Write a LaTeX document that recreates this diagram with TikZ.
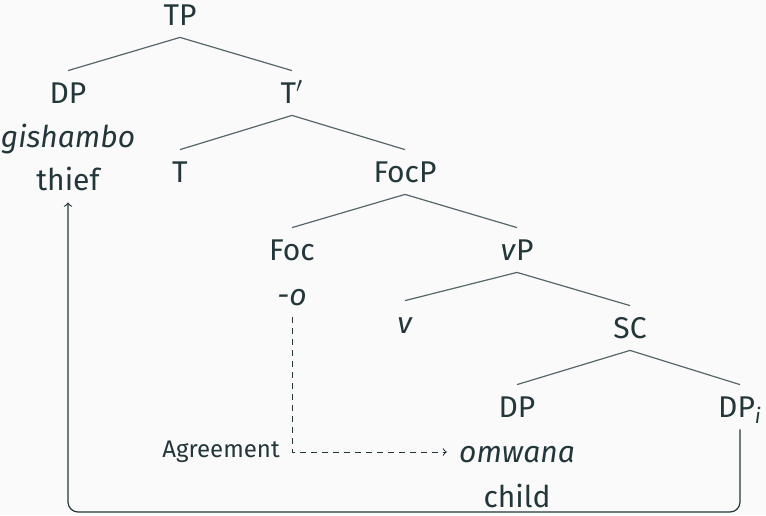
\documentclass[tikz,border=0pt]{standalone}
\usepackage{fontspec}
\setmainfont{Fira Sans}
\definecolor{darkteal}{HTML}{23373B}
\definecolor{paper}{HTML}{FAFAFA}
\definecolor{branchgray}{HTML}{56666A}

\begin{document}
\begin{tikzpicture}[
	x=0.5pt, y=-0.5pt,
	cat/.style={anchor=base, inner xsep=6pt, inner ysep=6pt, text height=10pt, text depth=0pt, text=darkteal, font=\fontsize{15}{18}\selectfont},
	treeline/.style={draw=branchgray, line width=0.6pt}
	]

	\useasboundingbox (0, 0) rectangle (766, 515);
	\fill [paper] (0, 0) rectangle (766, 515);

	\node (TP) at (180, 25) [cat] {TP};
	\node (DP) at (68, 103) [cat] {DP};
	\node (gishambo) at (68, 147) [cat] {\textit{gishambo}};
	\node (thief) at (68, 190) [cat] {thief};
	\node (Tbar) at (292, 103) [cat] {T$'$};
	\node (T) at (180, 182) [cat] {T};
	\node (FocP) at (405, 182) [cat] {FocP};
	\node (Foc) at (292, 260) [cat] {Foc};
	\node (o) at (292, 305) [cat] {\textit{-o}};
	\node (vP) at (517, 260) [cat] {\textit{v}P};
	\node (v) at (405, 333) [cat] {\textit{v}};
	\node (SC) at (630, 338) [cat] {SC};
	\node (DPa) at (517, 417) [cat] {DP};
	\node (omwana) at (517, 462) [cat] {\textit{omwana}};
	\node (child) at (517, 507) [cat] {child};
	\node (DPi) at (740, 417) [cat] {DP\textsubscript{\textit{i}}};
	\node (agr) at (221, 457) [cat, font=\fontsize{12}{14}\selectfont] {Agreement};

	\draw [treeline] (TP.south) -- (DP.north);
	\draw [treeline] (TP.south) -- (Tbar.north);
	\draw [treeline] (Tbar.south) -- (T.north);
	\draw [treeline] (Tbar.south) -- (FocP.north);
	\draw [treeline] (FocP.south) -- (Foc.north);
	\draw [treeline] (FocP.south) -- (vP.north);
	\draw [treeline] (vP.south) -- (v.north);
	\draw [treeline] (vP.south) -- (SC.north);
	\draw [treeline] (SC.south) -- (DPa.north);
	\draw [treeline] (SC.south) -- (DPi.north);

	% agreement and movement
	\draw [->, darkteal, line width=0.5pt, dash pattern=on 3pt off 2.5pt] (o.south) |- (omwana.west);
	\coordinate (bottom) at (400, 512);
	\draw [->, darkteal, line width=0.6pt, rounded corners=5pt] (DPi.south) |- (bottom) -| (thief.south);
\end{tikzpicture}
\end{document}
